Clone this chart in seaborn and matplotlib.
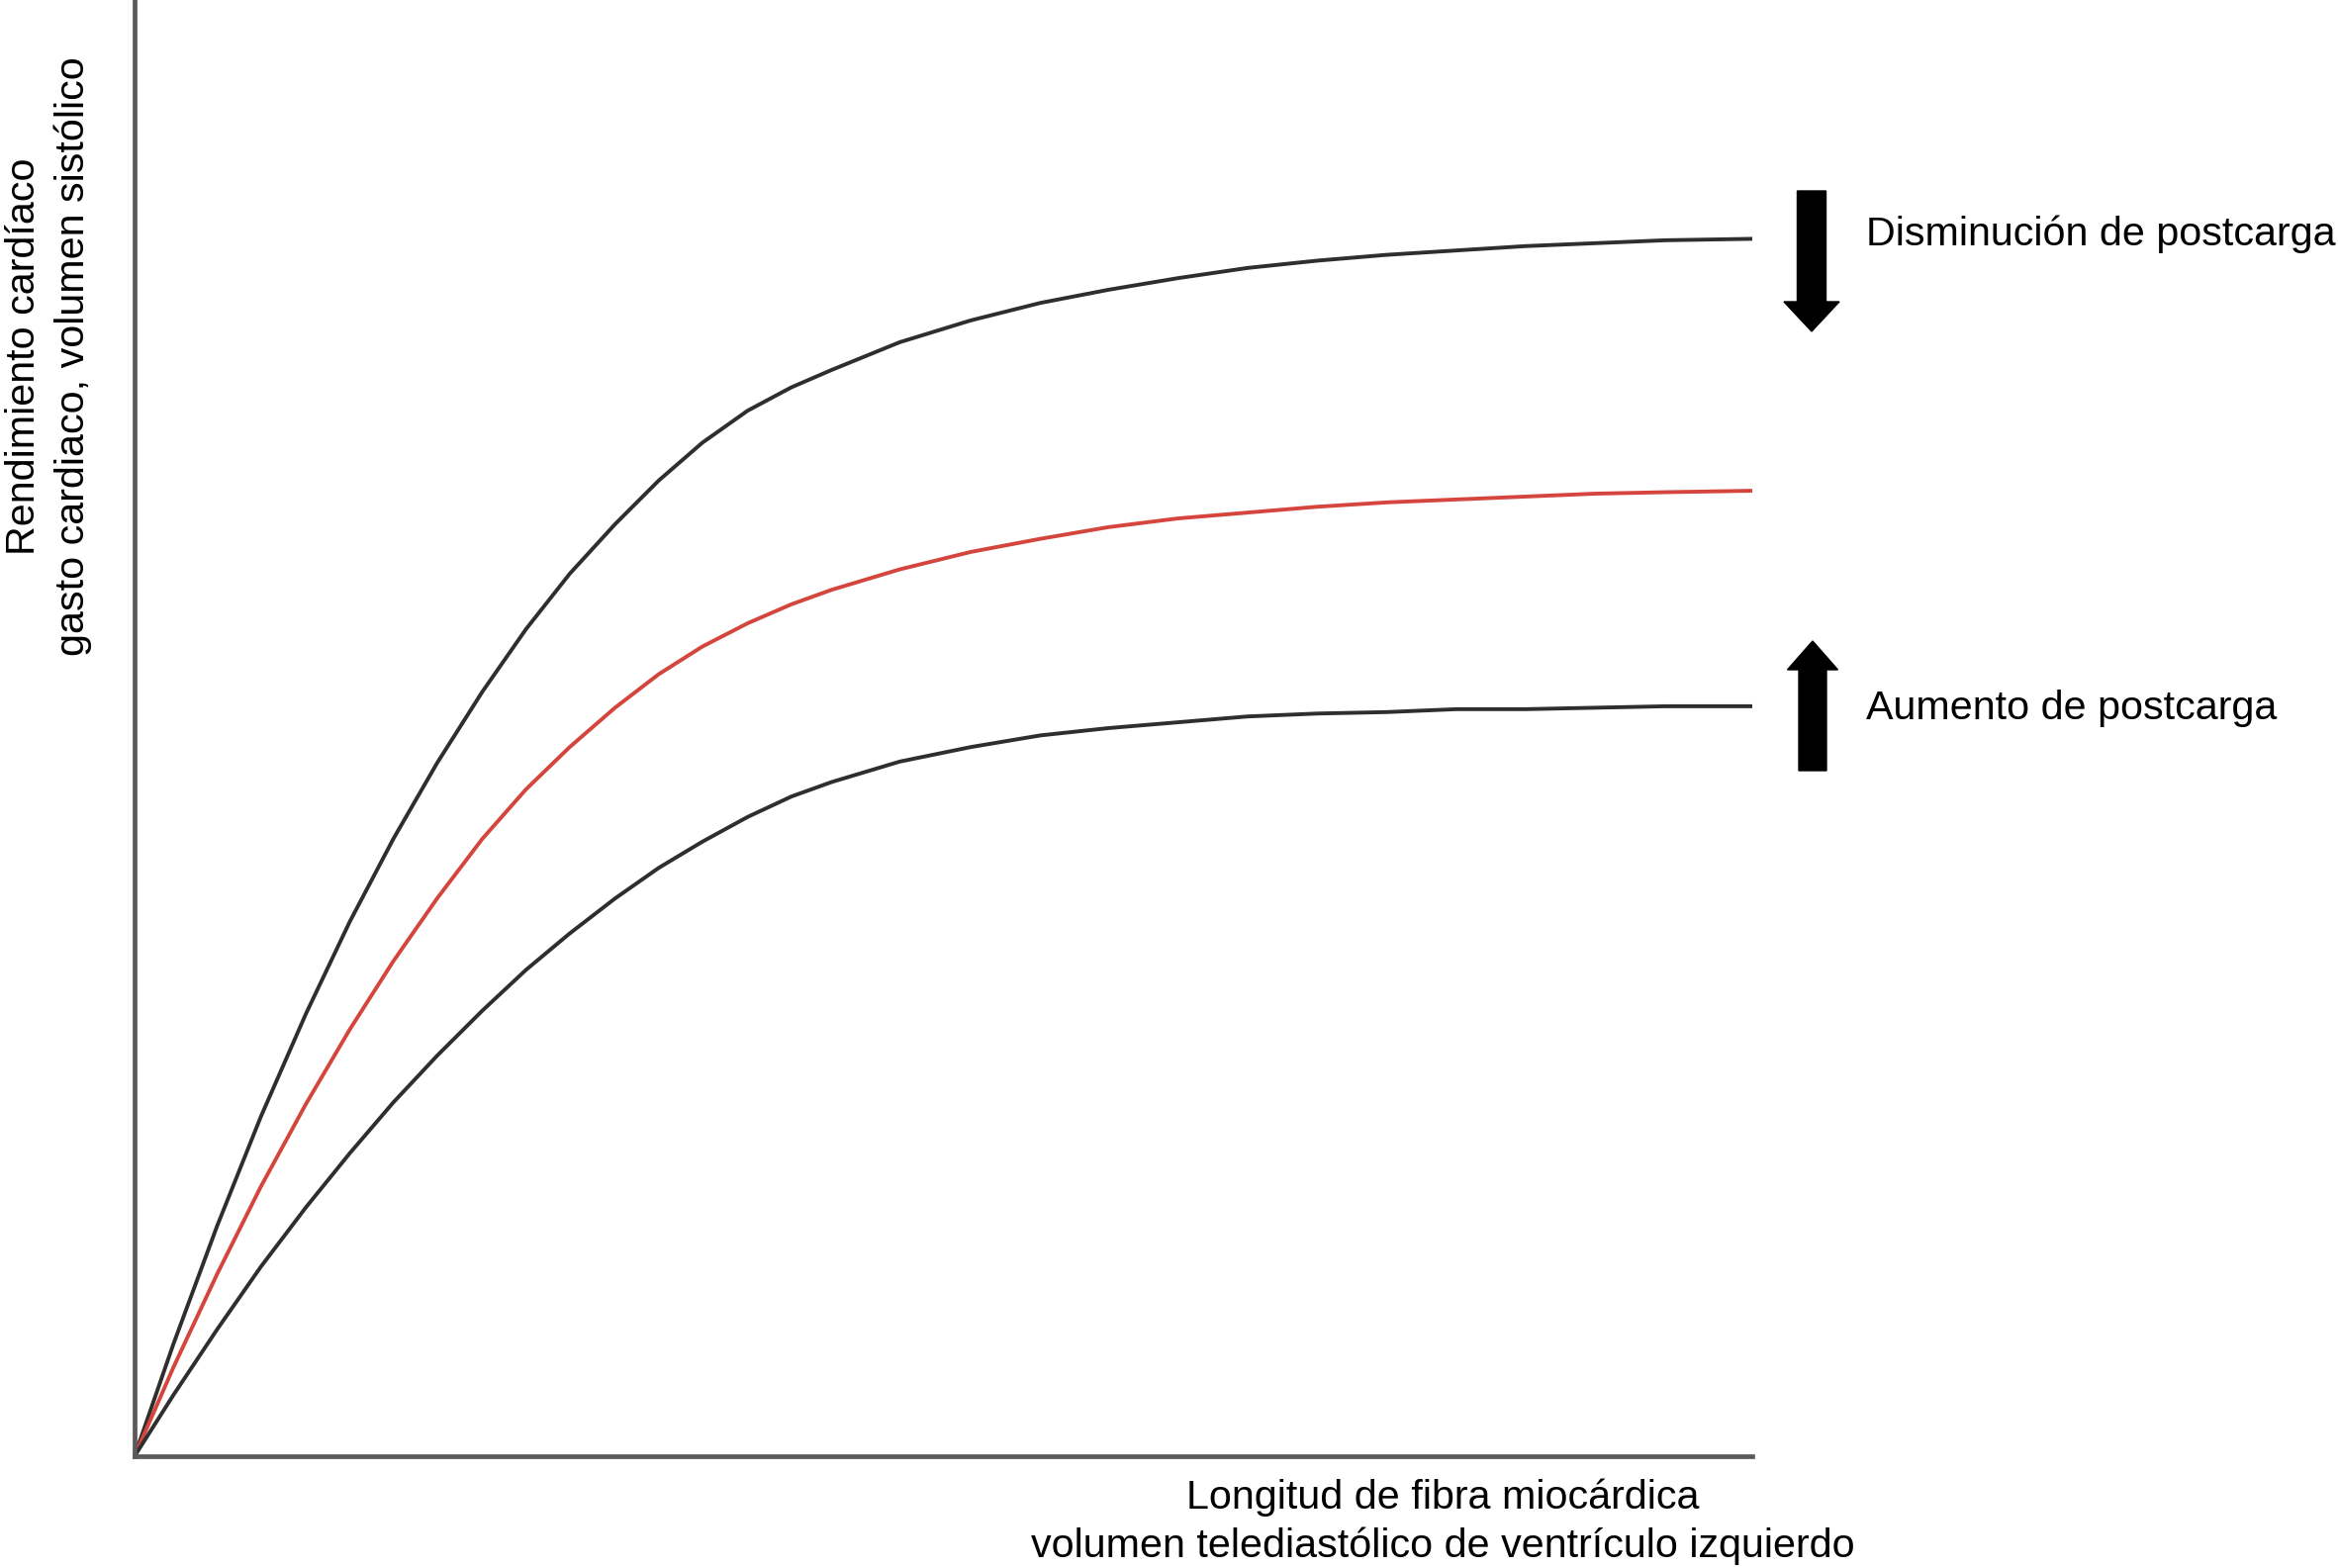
import numpy as np
import pandas as pd
import matplotlib
matplotlib.use("Agg")
import matplotlib.pyplot as plt
from matplotlib.patches import FancyArrow
import seaborn as sns

# fibre length (arbitrary units, 0-100 along the x axis)
fibre = [0, 2.4, 5.1, 7.8, 10.6, 13.3, 16.0, 18.7, 21.5, 24.2, 26.9, 29.7, 32.4,
         35.1, 37.9, 40.6, 43.1, 47.3, 51.7, 56.0, 60.2, 64.5, 68.8, 73.1, 77.4,
         81.7, 86.0, 90.3, 94.6, 100]

# cardiac output (arbitrary units, 0-100)
low_afterload = [0, 7.7, 15.8, 23.3, 30.4, 36.7, 42.4, 47.6, 52.5, 56.8, 60.6, 64.0, 67.0,
                 69.6, 71.8, 73.4, 74.6, 76.5, 78.0, 79.2, 80.1, 80.9, 81.6, 82.1, 82.5,
                 82.8, 83.1, 83.3, 83.5, 83.6]
normal = [0, 6.1, 12.5, 18.5, 24.2, 29.3, 34.0, 38.3, 42.4, 45.8, 48.7, 51.4, 53.7,
          55.6, 57.2, 58.5, 59.5, 60.9, 62.1, 63.0, 63.8, 64.4, 64.8, 65.2, 65.5,
          65.7, 65.9, 66.1, 66.2, 66.3]
high_afterload = [0, 4.2, 8.7, 13.0, 17.1, 20.8, 24.3, 27.5, 30.6, 33.4, 35.9, 38.3, 40.4,
                  42.2, 43.9, 45.3, 46.3, 47.7, 48.7, 49.5, 50.0, 50.4, 50.8, 51.0, 51.1,
                  51.3, 51.3, 51.4, 51.5, 51.5]

curve_names = ["baja", "normal", "alta"]
curve_colors = {"baja": "#2e2e2e", "normal": "#d4463d", "alta": "#2e2e2e"}

xlabel = "Longitud de fibra miocárdica\nvolumen telediastólico de ventrículo izquierdo"
ylabel = "Rendimiento cardíaco\ngasto cardiaco, volumen sistólico"
label_down = "Disminución de postcarga"
label_up = "Aumento de postcarga"

df = pd.DataFrame({
    "x": fibre * 3,
    "y": low_afterload + normal + high_afterload,
    "curva": [n for n in curve_names for _ in fibre],
})

sns.set_theme(style="white")
plt.rcParams['font.family'] = ['Liberation Sans', 'DejaVu Sans']

W, H = 2363, 1585
fig = plt.figure(figsize=(W / 100, H / 100), dpi=100)
ax = fig.add_axes([136 / W, 1 - 1472 / H, (1771 - 136) / W, 1472 / H])

sns.lineplot(data=df, x="x", y="y", hue="curva", palette=curve_colors,
             estimator=None, linewidth=2.8, legend=False, ax=ax, clip_on=False,
             solid_joinstyle="round", solid_capstyle="butt")

ax.set_xlim(0, 100)
ax.set_ylim(0, 100)
ax.set_xticks([])
ax.set_yticks([])
ax.set_xlabel("")
ax.set_ylabel("")
for s in ["top", "right"]:
    ax.spines[s].set_visible(False)
for s in ["left", "bottom"]:
    ax.spines[s].set_color("#5a5a5a")
    ax.spines[s].set_linewidth(3.4)

fs = 29.7
fig.text(49 / W, 1 - 360 / H, ylabel, rotation=90, ha="center", va="center",
         multialignment="center", fontsize=fs, linespacing=1.36, color="black")
fig.text(1458 / W, 1 - 1538 / H, xlabel, ha="center", va="center",
         multialignment="center", fontsize=fs, linespacing=1.36, color="black")
fig.text(1886 / W, 1 - 248 / H, label_down, ha="left", va="baseline", fontsize=fs, color="black")
fig.text(1886 / W, 1 - 727 / H, label_up, ha="left", va="baseline", fontsize=fs, color="black")

# arrows (inches from bottom-left of the figure)
tr = fig.dpi_scale_trans
fig.add_artist(FancyArrow(18.31, (H - 193) / 100, 0, -1.42, width=0.29, head_width=0.56,
                          head_length=0.30, length_includes_head=True,
                          color="black", transform=tr))
fig.add_artist(FancyArrow(18.32, (H - 779) / 100, 0, 1.31, width=0.28, head_width=0.51,
                          head_length=0.29, length_includes_head=True,
                          color="black", transform=tr))

fig.savefig("out.png", dpi=100, facecolor="white")
